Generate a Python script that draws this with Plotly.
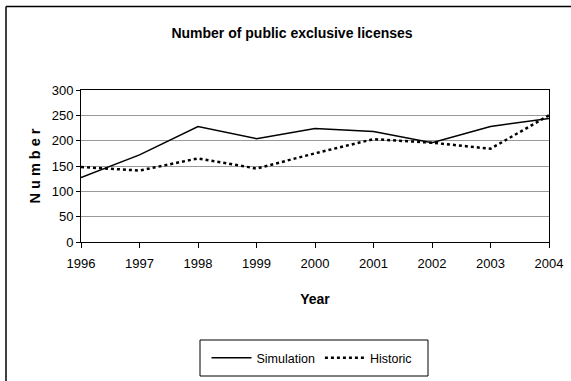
import plotly.graph_objects as go

years = [1996, 1997, 1998, 1999, 2000, 2001, 2002, 2003, 2004]
simulation = [127, 172, 228, 204, 224, 218, 196, 228, 244]
historic = [148, 141, 165, 145, 175, 203, 196, 184, 250]

W, H = 571, 381
L, R, T, B = 81, 22, 90, 139
pw, ph = W - L - R, H - T - B

def px_x(p):
    return (p - L) / pw

def px_y(p):
    return 1 + (T - p) / ph

font = "Liberation Sans, Arial, sans-serif"

fig = go.Figure()
fig.add_trace(go.Scatter(x=years, y=simulation, mode="lines", name="Simulation",
                         line=dict(color="black", width=1.5)))
fig.add_trace(go.Scatter(x=years, y=historic, mode="lines", name="Historic",
                         line=dict(color="black", width=2.5, dash="dot")))

fig.update_layout(
    width=W, height=H,
    margin=dict(l=L, r=R, t=T, b=B, autoexpand=False),
    paper_bgcolor="white", plot_bgcolor="white",
    font=dict(family=font, size=13, color="black"),
    title=dict(text="<b>Number of public exclusive licenses</b>", x=px_x(292), xref="paper",
               xanchor="center", y=1 - 33 / H, yanchor="middle", font=dict(size=14)),
    showlegend=True,
    legend=dict(orientation="h", x=px_x(312), xanchor="center", y=px_y(358), yanchor="middle",
                borderwidth=0, bgcolor="rgba(0,0,0,0)",
                font=dict(size=12.5), itemwidth=40, traceorder="normal"),
    xaxis=dict(range=[1996, 2004], tickmode="array", tickvals=years,
               ticktext=[str(y) for y in years], showgrid=False, zeroline=False,
               showline=True, linecolor="black", linewidth=1, mirror=True,
               ticks="outside", ticklen=5, tickcolor="black", automargin=False,
               ticklabelstandoff=4,
               title=dict(text="<b>Year</b>", standoff=24, font=dict(size=14))),
    yaxis=dict(range=[0, 300], tickmode="array", tickvals=[0, 50, 100, 150, 200, 250, 300],
               showgrid=True, gridcolor="#999999", gridwidth=1, zeroline=False,
               showline=True, linecolor="black", linewidth=1, mirror=True,
               ticks="outside", ticklen=4, tickcolor="black", automargin=False,
               title=dict(text="<b>N u m b e r</b>", standoff=7, font=dict(size=14.5))),
)

# outer chart frame (left and top edges visible)
fig.add_shape(type="line", xref="paper", yref="paper",
              x0=px_x(6), x1=px_x(6), y0=px_y(390), y1=px_y(6.5),
              line=dict(color="black", width=1.5))
fig.add_shape(type="line", xref="paper", yref="paper",
              x0=px_x(6), x1=px_x(580), y0=px_y(6.5), y1=px_y(6.5),
              line=dict(color="black", width=1.5))
# legend frame
fig.add_shape(type="rect", xref="paper", yref="paper",
              x0=px_x(200), x1=px_x(428), y0=px_y(376), y1=px_y(340),
              line=dict(color="black", width=1), layer="below")

fig.write_html("out.html", config={"displayModeBar": False},
               post_script="document.body.style.margin='0';")
